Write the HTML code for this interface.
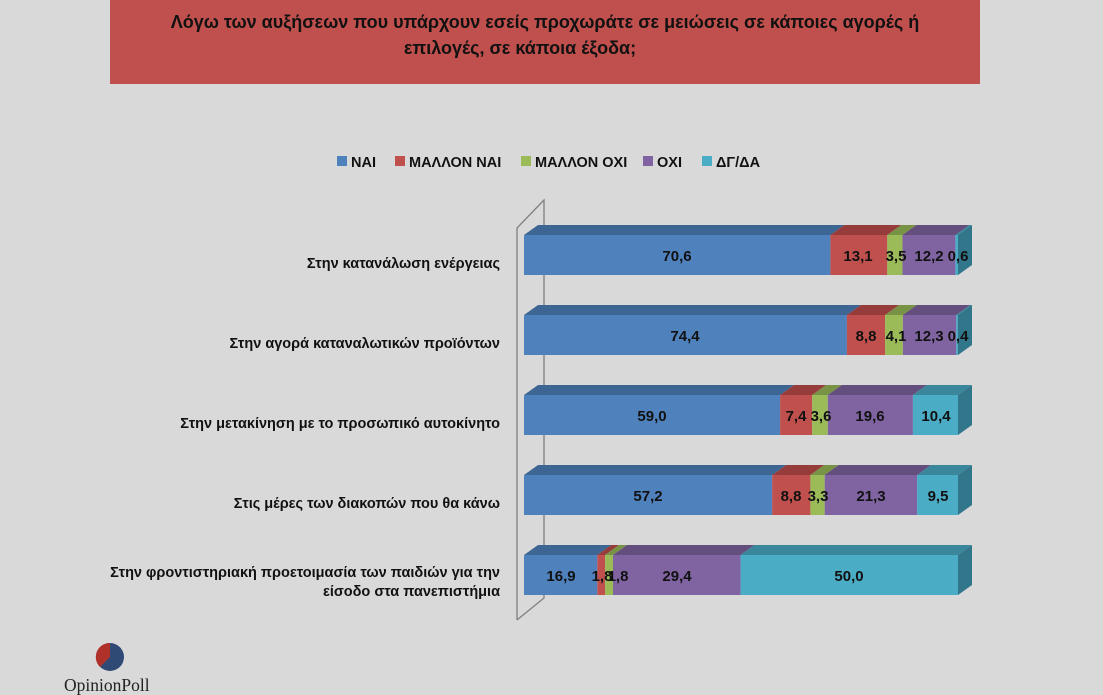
<!DOCTYPE html>
<html><head><meta charset="utf-8"><style>
body{margin:0;background:#d9d9d9;}
svg{display:block;font-family:"Liberation Sans",sans-serif;}
</style></head><body>
<svg width="1103" height="695" viewBox="0 0 1103 695">
<rect width="1103" height="695" fill="#d9d9d9"/>
<rect x="110" y="0" width="870" height="84" fill="#c0504d"/>
<text x="545" y="28" text-anchor="middle" font-size="18" font-weight="bold" fill="#111">Λόγω των αυξήσεων που υπάρχουν εσείς προχωράτε σε μειώσεις σε κάποιες αγορές ή</text>
<text x="520" y="54" text-anchor="middle" font-size="18" font-weight="bold" fill="#111">επιλογές, σε κάποια έξοδα;</text>

<g font-size="14.5" font-weight="bold" fill="#111">
<rect x="337" y="156" width="10" height="10" fill="#4f81bd"/><text x="351" y="167">ΝΑΙ</text>
<rect x="395" y="156" width="10" height="10" fill="#c0504d"/><text x="409" y="167">ΜΑΛΛΟΝ ΝΑΙ</text>
<rect x="521" y="156" width="10" height="10" fill="#9bbb59"/><text x="535" y="167">ΜΑΛΛΟΝ ΟΧΙ</text>
<rect x="643" y="156" width="10" height="10" fill="#8064a2"/><text x="657" y="167">ΟΧΙ</text>
<rect x="702" y="156" width="10" height="10" fill="#4bacc6"/><text x="716" y="167">ΔΓ/ΔΑ</text>
</g>

<g fill="none" stroke="#7f7f7f" stroke-width="1.3">
<polyline points="517,620 517,228 544,200 544,598 517,620"/>
</g>

<g font-size="14.5" font-weight="bold" fill="#111" text-anchor="end">
<text x="500" y="268">Στην κατανάλωση ενέργειας</text>
<text x="500" y="348">Στην αγορά καταναλωτικών προϊόντων</text>
<text x="500" y="428">Στην μετακίνηση με το προσωπικό αυτοκίνητο</text>
<text x="500" y="508">Στις μέρες των διακοπών που θα κάνω</text>
<text x="500" y="577">Στην φροντιστηριακή προετοιμασία των παιδιών για την</text>
<text x="500" y="596">είσοδο στα πανεπιστήμια</text>
</g>

<!-- Row 1 y=235 -->
<g>
<polygon points="524,235 830.4,235 844.4,225 538,225" fill="#3d6694"/>
<polygon points="830.4,235 887.3,235 901.3,225 844.4,225" fill="#963d3b"/>
<polygon points="887.3,235 902.5,235 916.5,225 901.3,225" fill="#789346"/>
<polygon points="902.5,235 955.4,235 969.4,225 916.5,225" fill="#644e7e"/>
<polygon points="955.4,235 958,235 972,225 969.4,225" fill="#3a879b"/>
<rect x="524" y="235" width="306.4" height="40" fill="#4f81bd"/>
<rect x="830.4" y="235" width="56.9" height="40" fill="#c0504d"/>
<rect x="887.3" y="235" width="15.2" height="40" fill="#9bbb59"/>
<rect x="902.5" y="235" width="52.9" height="40" fill="#8064a2"/>
<rect x="955.4" y="235" width="2.6" height="40" fill="#4bacc6"/>
<polygon points="958,235 972,225 972,265 958,275" fill="#31768a"/>
</g>
<!-- Row 2 y=315 -->
<g>
<polygon points="524,315 846.9,315 860.9,305 538,305" fill="#3d6694"/>
<polygon points="846.9,315 885.1,315 899.1,305 860.9,305" fill="#963d3b"/>
<polygon points="885.1,315 902.9,315 916.9,305 899.1,305" fill="#789346"/>
<polygon points="902.9,315 956.3,315 970.3,305 916.9,305" fill="#644e7e"/>
<polygon points="956.3,315 958,315 972,305 970.3,305" fill="#3a879b"/>
<rect x="524" y="315" width="322.9" height="40" fill="#4f81bd"/>
<rect x="846.9" y="315" width="38.2" height="40" fill="#c0504d"/>
<rect x="885.1" y="315" width="17.8" height="40" fill="#9bbb59"/>
<rect x="902.9" y="315" width="53.4" height="40" fill="#8064a2"/>
<rect x="956.3" y="315" width="1.7" height="40" fill="#4bacc6"/>
<polygon points="958,315 972,305 972,345 958,355" fill="#31768a"/>
</g>
<!-- Row 3 y=395 -->
<g>
<polygon points="524,395 780.1,395 794.1,385 538,385" fill="#3d6694"/>
<polygon points="780.1,395 812.2,395 826.2,385 794.1,385" fill="#963d3b"/>
<polygon points="812.2,395 827.8,395 841.8,385 826.2,385" fill="#789346"/>
<polygon points="827.8,395 912.9,395 926.9,385 841.8,385" fill="#644e7e"/>
<polygon points="912.9,395 958,395 972,385 926.9,385" fill="#3a879b"/>
<rect x="524" y="395" width="256.1" height="40" fill="#4f81bd"/>
<rect x="780.1" y="395" width="32.1" height="40" fill="#c0504d"/>
<rect x="812.2" y="395" width="15.6" height="40" fill="#9bbb59"/>
<rect x="827.8" y="395" width="85.1" height="40" fill="#8064a2"/>
<rect x="912.9" y="395" width="45.1" height="40" fill="#4bacc6"/>
<polygon points="958,395 972,385 972,425 958,435" fill="#31768a"/>
</g>
<!-- Row 4 y=475 -->
<g>
<polygon points="524,475 772.2,475 786.2,465 538,465" fill="#3d6694"/>
<polygon points="772.2,475 810.4,475 824.4,465 786.2,465" fill="#963d3b"/>
<polygon points="810.4,475 824.7,475 838.7,465 824.4,465" fill="#789346"/>
<polygon points="824.7,475 917.1,475 931.1,465 838.7,465" fill="#644e7e"/>
<polygon points="917.1,475 958,475 972,465 931.1,465" fill="#3a879b"/>
<rect x="524" y="475" width="248.2" height="40" fill="#4f81bd"/>
<rect x="772.2" y="475" width="38.2" height="40" fill="#c0504d"/>
<rect x="810.4" y="475" width="14.3" height="40" fill="#9bbb59"/>
<rect x="824.7" y="475" width="92.4" height="40" fill="#8064a2"/>
<rect x="917.1" y="475" width="40.9" height="40" fill="#4bacc6"/>
<polygon points="958,475 972,465 972,505 958,515" fill="#31768a"/>
</g>
<!-- Row 5 y=555 -->
<g>
<polygon points="524,555 597.3,555 611.3,545 538,545" fill="#3d6694"/>
<polygon points="597.3,555 605.1,555 619.1,545 611.3,545" fill="#963d3b"/>
<polygon points="605.1,555 613,555 627,545 619.1,545" fill="#789346"/>
<polygon points="613,555 740.6,555 754.6,545 627,545" fill="#644e7e"/>
<polygon points="740.6,555 958,555 972,545 754.6,545" fill="#3a879b"/>
<rect x="524" y="555" width="73.3" height="40" fill="#4f81bd"/>
<rect x="597.3" y="555" width="7.8" height="40" fill="#c0504d"/>
<rect x="605.1" y="555" width="7.9" height="40" fill="#9bbb59"/>
<rect x="613" y="555" width="127.6" height="40" fill="#8064a2"/>
<rect x="740.6" y="555" width="217.4" height="40" fill="#4bacc6"/>
<polygon points="958,555 972,545 972,585 958,595" fill="#31768a"/>
</g>

<g font-size="15" font-weight="bold" fill="#111" text-anchor="middle">
<text x="677" y="261">70,6</text><text x="858" y="261">13,1</text><text x="896" y="261">3,5</text><text x="929" y="261">12,2</text><text x="958" y="261">0,6</text>
<text x="685" y="341">74,4</text><text x="866" y="341">8,8</text><text x="896" y="341">4,1</text><text x="929" y="341">12,3</text><text x="958" y="341">0,4</text>
<text x="652" y="421">59,0</text><text x="796" y="421">7,4</text><text x="821" y="421">3,6</text><text x="870" y="421">19,6</text><text x="936" y="421">10,4</text>
<text x="648" y="501">57,2</text><text x="791" y="501">8,8</text><text x="818" y="501">3,3</text><text x="871" y="501">21,3</text><text x="938" y="501">9,5</text>
<text x="561" y="581">16,9</text><text x="602" y="581">1,8</text><text x="618" y="581">1,8</text><text x="677" y="581">29,4</text><text x="849" y="581">50,0</text>
</g>

<circle cx="110" cy="657" r="14" fill="#2f4a75"/>
<path d="M110,657 L110,643 A14,14 0 0,0 100,667 Z" fill="#b0302a"/>
<text x="64" y="691" font-family="Liberation Serif,serif" font-size="17.5" fill="#222">OpinionPoll</text>
</svg>
</body></html>
